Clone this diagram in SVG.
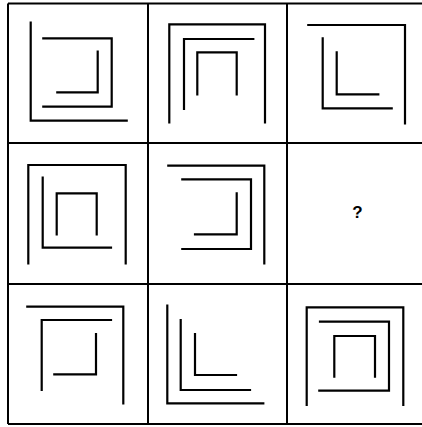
<svg xmlns="http://www.w3.org/2000/svg" width="422" height="427" viewBox="0 0 422 427">
<style>
.g{fill:none;stroke:#000;stroke-width:2}
.s{fill:none;stroke:#000;stroke-width:2.2;stroke-linecap:square;stroke-linejoin:miter}
.q{font-family:"Liberation Sans",Arial,sans-serif;font-size:17px;font-weight:bold;fill:#000}
</style>
<rect width="422" height="427" fill="#fff"/>
<g id="grid" class="g">
<path d="M8,3.5H422M8,143H422M8,284H422M8,424H422"/>
<path d="M8,3.5V424M148,3.5V424M287,3.5V424"/>
</g>
<g id="cell-1-1" class="s">
<path d="M30.7,22.7V120.7H126.7"/>
<path d="M43.3,38.3H111.7V106.7H43.3"/>
<path d="M97.7,51.7V92.3H57.3"/>
</g>
<g id="cell-1-2" class="s">
<path d="M169.3,122.3V24.3H265V122.3"/>
<path d="M184,109V39H253.3"/>
<path d="M197.3,94.3V52.3H236.7V94.3"/>
</g>
<g id="cell-1-3" class="s">
<path d="M308.3,25H405V123.3"/>
<path d="M322.7,38.3V108.3H391.7"/>
<path d="M336.7,52.3V94.3H378.3"/>
</g>
<g id="cell-2-1" class="s">
<path d="M28.3,263.3V165H125.7V263.3"/>
<path d="M42.7,177.7V247.7H111"/>
<path d="M56.7,234.3V193.3H96.7V234.3"/>
</g>
<g id="cell-2-2" class="s">
<path d="M168.3,165.7H264.3V263.3"/>
<path d="M182.3,179.3H251V249H182.3"/>
<path d="M236.7,193.3V234.3H195"/>
</g>
<g id="cell-2-3">
<text class="q" x="357.5" y="218" text-anchor="middle">?</text>
</g>
<g id="cell-3-1" class="s">
<path d="M27.3,306.7H123.3V403.3"/>
<path d="M41.7,390V320H111"/>
<path d="M96,334V374.3H54.3"/>
</g>
<g id="cell-3-2" class="s">
<path d="M167.3,305.7V403.3H263.3"/>
<path d="M180.7,320V390H250"/>
<path d="M195,334V375H236"/>
</g>
<g id="cell-3-3" class="s">
<path d="M306.7,405V307.3H403.3V405"/>
<path d="M320,321.7H389V390.7H319.3"/>
<path d="M334.3,376.7V336H375V376.7"/>
</g>
</svg>
